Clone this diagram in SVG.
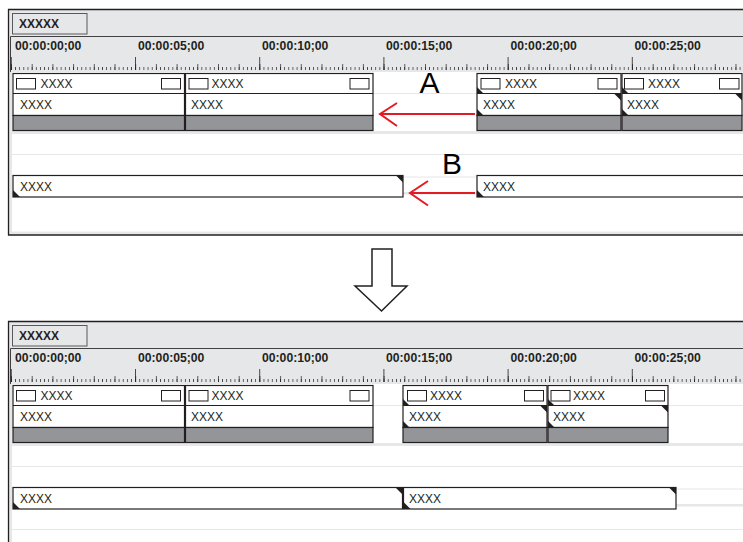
<svg xmlns="http://www.w3.org/2000/svg" xmlns:xlink="http://www.w3.org/1999/xlink" width="743" height="542" viewBox="0 0 743 542">
<style>
.b{font:bold 12px "Liberation Sans",Arial,sans-serif;fill:#231f20}
.tc{font:bold 12.2px "Liberation Sans",Arial,sans-serif;fill:#231f20}
.t{font:12px "Liberation Sans",Arial,sans-serif;fill:#231f20}
.clip{fill:#fff;stroke:#231f20;stroke-width:1.2}
.bar{fill:#939598;stroke:#231f20;stroke-width:1.2}
.edge{stroke:#231f20;stroke-width:1.2}
.ico{fill:#fff;stroke:#231f20;stroke-width:1}
.tri{fill:#231f20}
.lt{stroke:#e6e7e8;stroke-width:1;fill:none}
.red{stroke:#e31b23;stroke-width:2;fill:none}
.lbl{font:30px "Liberation Sans",Arial,sans-serif;fill:#000}
</style>
<defs>
<pattern id="minor" x="11" y="0" width="4.14" height="80" patternUnits="userSpaceOnUse"><rect x="0" y="67" width="0.7" height="3" fill="#231f20"/></pattern>
<pattern id="med" x="11" y="0" width="20.7" height="80" patternUnits="userSpaceOnUse"><rect x="0" y="64" width="0.7" height="6" fill="#231f20"/></pattern>
<g id="base">
<rect x="8" y="9" width="736" height="63" fill="#e6e7e8"/>
<rect x="8" y="72" width="736" height="163" fill="#fff"/>
<rect x="9" y="72" width="3" height="163" fill="#e6e7e8"/>
<path class="lt" d="M12 93.5H743M12 154.5H743M12 177H743"/>
<rect x="12" y="131" width="731" height="3" fill="#e6e7e8"/>
<rect x="12" y="192" width="731" height="2.5" fill="#e6e7e8"/>
<rect x="12" y="231.5" width="731" height="3" fill="#e6e7e8"/>
<path d="M8 9.5H743M8.5 9V235.5M8 235H743" stroke="#231f20" stroke-width="1.3" fill="none"/>
<path d="M10.5 36.5H743M10.5 36.5V72" stroke="#414042" stroke-width="1" fill="none"/>
<rect x="12.5" y="13.5" width="74.5" height="20.5" fill="#e6e7e8" stroke="#58595b" stroke-width="1"/>
<text class="b" x="19" y="28">XXXXX</text>
<text class="tc" x="15" y="50">00:00:00;00</text>
<text class="tc" x="138" y="50">00:00:05;00</text>
<text class="tc" x="262" y="50">00:00:10;00</text>
<text class="tc" x="386" y="50">00:00:15;00</text>
<text class="tc" x="510.5" y="50">00:00:20;00</text>
<text class="tc" x="634.5" y="50">00:00:25;00</text>
<rect x="11" y="67" width="732" height="3" fill="url(#minor)"/>
<rect x="11" y="64" width="732" height="6" fill="url(#med)"/>
<path d="M11.3 57V70M135.5 57V70M259.7 57V70M383.9 57V70M508.1 57V70M632.3 57V70" stroke="#231f20" stroke-width="0.8"/>
</g>
</defs>

<g id="panel-before">
<use xlink:href="#base"/>
<g id="before-video-1">
<rect class="clip" x="13" y="73.5" width="171.5" height="42"/>
<rect class="bar" x="13" y="115.5" width="171.5" height="15"/>
<line class="edge" x1="13" y1="93.5" x2="184.5" y2="93.5"/>
<rect class="ico" x="16.5" y="78.5" width="19" height="10.5"/>
<rect class="ico" x="161.5" y="78.5" width="19" height="10.5"/>
<text class="t" x="40.5" y="87.5">XXXX</text>
<text class="t" x="20" y="108.5">XXXX</text>
</g>
<g id="before-video-2">
<rect class="clip" x="185.5" y="73.5" width="187.5" height="42"/>
<rect class="bar" x="185.5" y="115.5" width="187.5" height="15"/>
<line class="edge" x1="185.5" y1="93.5" x2="373" y2="93.5"/>
<rect class="ico" x="189" y="78.5" width="19" height="10.5"/>
<rect class="ico" x="350" y="78.5" width="19" height="10.5"/>
<text class="t" x="211.5" y="87.5">XXXX</text>
<text class="t" x="191" y="108.5">XXXX</text>
</g>
<g id="before-video-3">
<rect class="clip" x="477" y="73.5" width="144" height="42"/>
<rect class="bar" x="477" y="115.5" width="144" height="15"/>
<line class="edge" x1="477" y1="93.5" x2="621" y2="93.5"/>
<rect class="ico" x="481" y="78.5" width="19" height="10.5"/>
<rect class="ico" x="598" y="78.5" width="19" height="10.5"/>
<text class="t" x="505" y="87.5">XXXX</text>
<text class="t" x="483" y="108.5">XXXX</text>
<polygon class="tri" points="477,87 477,93.5 483.5,93.5"/>
<polygon class="tri" points="614.5,94 621,94 621,100.5"/>
<polygon class="tri" points="477,109 477,115.5 483.5,115.5"/>
</g>
<g id="before-video-4">
<rect class="clip" x="622" y="73.5" width="120" height="42"/>
<rect class="bar" x="622" y="115.5" width="120" height="15"/>
<line class="edge" x1="622" y1="93.5" x2="742" y2="93.5"/>
<rect class="ico" x="624.5" y="78.5" width="19" height="10.5"/>
<rect class="ico" x="719.5" y="78.5" width="19.5" height="10.5"/>
<text class="t" x="648" y="87.5">XXXX</text>
<text class="t" x="627" y="108.5">XXXX</text>
<polygon class="tri" points="622,87 622,93.5 628.5,93.5"/>
<polygon class="tri" points="735.5,94 742,94 742,100.5"/>
<polygon class="tri" points="622,109 622,115.5 628.5,115.5"/>
</g>
<g id="before-audio-1">
<rect class="clip" x="13" y="175.5" width="390" height="21.5"/>
<text class="t" x="20" y="190.5">XXXX</text>
<polygon class="tri" points="13,190 13,197 20,197"/>
<polygon class="tri" points="396,175.5 403,175.5 403,182.5"/>
</g>
<g id="before-audio-2">
<rect class="clip" x="477" y="175.5" width="280" height="21.5"/>
<text class="t" x="483" y="190.5">XXXX</text>
<polygon class="tri" points="477,190 477,197 484,197"/>
</g>
</g>

<g id="panel-after" transform="translate(0,312)">
<use xlink:href="#base"/>
<path class="lt" d="M12 217.5H743"/>
<g id="after-video-1">
<rect class="clip" x="13" y="73.5" width="171.5" height="42"/>
<rect class="bar" x="13" y="115.5" width="171.5" height="15"/>
<line class="edge" x1="13" y1="93.5" x2="184.5" y2="93.5"/>
<rect class="ico" x="16.5" y="78.5" width="19" height="10.5"/>
<rect class="ico" x="161.5" y="78.5" width="19" height="10.5"/>
<text class="t" x="40.5" y="87.5">XXXX</text>
<text class="t" x="20" y="108.5">XXXX</text>
</g>
<g id="after-video-2">
<rect class="clip" x="185.5" y="73.5" width="187.5" height="42"/>
<rect class="bar" x="185.5" y="115.5" width="187.5" height="15"/>
<line class="edge" x1="185.5" y1="93.5" x2="373" y2="93.5"/>
<rect class="ico" x="189" y="78.5" width="19" height="10.5"/>
<rect class="ico" x="350" y="78.5" width="19" height="10.5"/>
<text class="t" x="211.5" y="87.5">XXXX</text>
<text class="t" x="191" y="108.5">XXXX</text>
</g>
<g id="after-video-3">
<rect class="clip" x="403" y="73.5" width="144" height="42"/>
<rect class="bar" x="403" y="115.5" width="144" height="15"/>
<line class="edge" x1="403" y1="93.5" x2="547" y2="93.5"/>
<rect class="ico" x="407.5" y="78.5" width="19" height="10.5"/>
<rect class="ico" x="524.5" y="78.5" width="19" height="10.5"/>
<text class="t" x="430" y="87.5">XXXX</text>
<text class="t" x="409" y="108.5">XXXX</text>
<polygon class="tri" points="403,87 403,93.5 409.5,93.5"/>
<polygon class="tri" points="540.5,94 547,94 547,100.5"/>
<polygon class="tri" points="403,109 403,115.5 409.5,115.5"/>
</g>
<g id="after-video-4">
<rect class="clip" x="548" y="73.5" width="120" height="42"/>
<rect class="bar" x="548" y="115.5" width="120" height="15"/>
<line class="edge" x1="548" y1="93.5" x2="668" y2="93.5"/>
<rect class="ico" x="551" y="78.5" width="19" height="10.5"/>
<rect class="ico" x="645.5" y="78.5" width="19" height="10.5"/>
<text class="t" x="573" y="87.5">XXXX</text>
<text class="t" x="553" y="108.5">XXXX</text>
<polygon class="tri" points="548,87 548,93.5 554.5,93.5"/>
<polygon class="tri" points="661.5,94 668,94 668,100.5"/>
<polygon class="tri" points="548,109 548,115.5 554.5,115.5"/>
</g>
<g id="after-audio-1">
<rect class="clip" x="13" y="175.5" width="389.5" height="21.5"/>
<text class="t" x="20" y="190.5">XXXX</text>
<polygon class="tri" points="13,190 13,197 20,197"/>
<polygon class="tri" points="395.5,175.5 402.5,175.5 402.5,182.5"/>
</g>
<g id="after-audio-2">
<rect class="clip" x="403.5" y="175.5" width="272.5" height="21.5"/>
<text class="t" x="409" y="190.5">XXXX</text>
<polygon class="tri" points="403.5,190 403.5,197 410.5,197"/>
<polygon class="tri" points="669,175.5 676,175.5 676,182.5"/>
</g>
</g>

<g id="connectors">
<g id="arrow-a">
<line class="red" x1="475" y1="114" x2="381" y2="114"/>
<polyline class="red" points="397,103 380,114 397,126"/>
</g>
<g id="arrow-b">
<line class="red" x1="475" y1="193" x2="411" y2="193"/>
<polyline class="red" points="428,181 410,193 428,205.5"/>
</g>
<g id="down-arrow">
<polygon points="372,249 392,249 392,286 407,286 381.5,311 355,286 372,286" fill="#fff" stroke="#231f20" stroke-width="1.5" stroke-linejoin="miter"/>
</g>
</g>
<text class="lbl" x="429.5" y="93" text-anchor="middle">A</text>
<text class="lbl" x="452" y="174" text-anchor="middle">B</text>
</svg>
